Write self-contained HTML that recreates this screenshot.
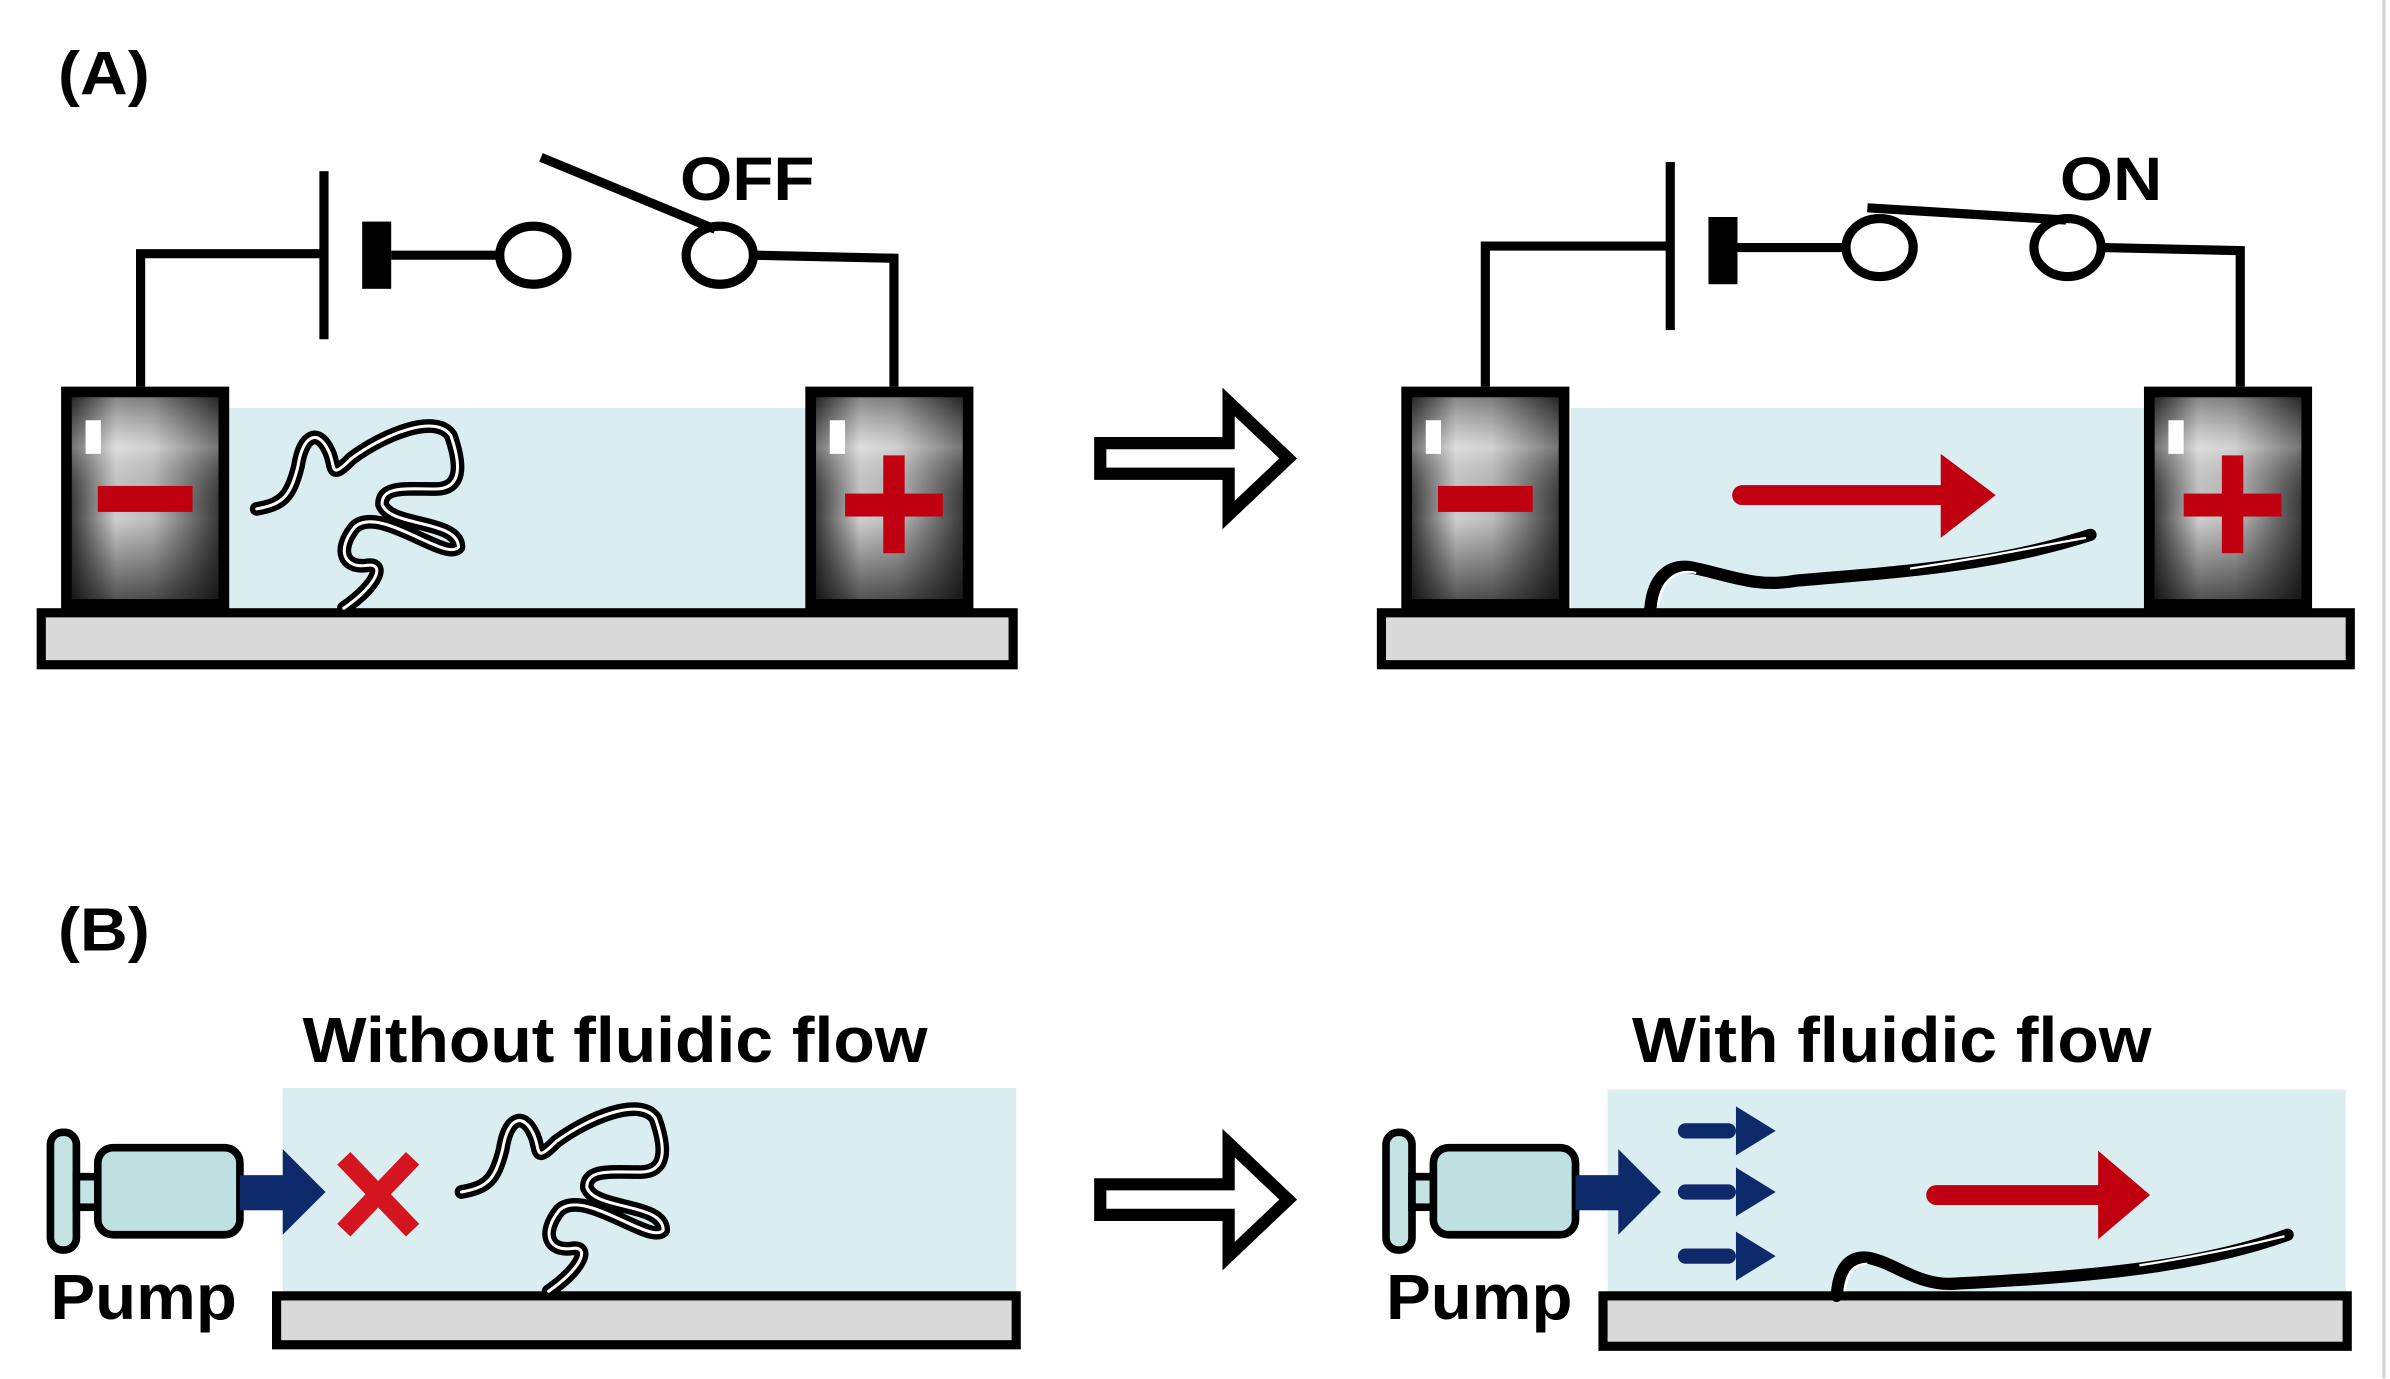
<!DOCTYPE html>
<html><head><meta charset="utf-8"><style>
html,body{margin:0;padding:0;background:#fff;}
svg{display:block;}
text{font-family:"Liberation Sans",sans-serif;font-weight:bold;fill:#000;}
</style></head><body>
<svg width="2390" height="1379" viewBox="0 0 1564 902.4" preserveAspectRatio="none" xmlns="http://www.w3.org/2000/svg">
<defs>
<linearGradient id="eh" x1="0" y1="0" x2="1" y2="0">
<stop offset="0" stop-color="#3a3a3a"/><stop offset="0.3" stop-color="#cfcfcf"/><stop offset="0.55" stop-color="#bdbdbd"/><stop offset="1" stop-color="#3a3a3a"/>
</linearGradient>
<linearGradient id="ev" x1="0" y1="0" x2="0" y2="1">
<stop offset="0" stop-color="#000" stop-opacity="0.35"/><stop offset="0.25" stop-color="#fff" stop-opacity="0.3"/><stop offset="0.6" stop-color="#000" stop-opacity="0"/><stop offset="1" stop-color="#000" stop-opacity="0.6"/>
</linearGradient>
<g id="elec">
<rect x="0" y="0" width="110" height="146" fill="#000"/>
<rect x="7" y="7" width="96" height="132" fill="url(#eh)"/>
<rect x="7" y="7" width="96" height="132" fill="url(#ev)"/>
<rect x="16" y="22" width="10" height="22" fill="#fff"/>
</g>
<g id="coil" fill="none" stroke-linecap="round" stroke-linejoin="round">
<path d="M168,333 C185,330 190,325 195,305 C198,285 208,280 215,295 C220,305 215,315 230,300 C250,285 285,270 295,285 C302,305 302,320 285,320 C265,320 250,318 250,330 C255,345 300,340 300,358 C292,368 248,330 232,345 C220,360 225,372 240,370 C252,368 248,382 225,398" stroke="#000" stroke-width="9"/>
<path d="M168,333 C185,330 190,325 195,305 C198,285 208,280 215,295 C220,305 215,315 230,300 C250,285 285,270 295,285 C302,305 302,320 285,320 C265,320 250,318 250,330 C255,345 300,340 300,358 C292,368 248,330 232,345 C220,360 225,372 240,370 C252,368 248,382 225,398" stroke="#fff" stroke-width="2"/>
</g>
<g id="hollow">
<polygon points="720,290 804,290 804,263 843,300 804,337 804,310 720,310" fill="#fff" stroke="#000" stroke-width="8" stroke-linejoin="miter"/>
</g>
<g id="pump">
<rect x="33" y="741" width="17" height="77" rx="8" fill="#c4e4e4" stroke="#000" stroke-width="5"/>
<rect x="50" y="770" width="16" height="20" fill="#c4e4e4" stroke="#000" stroke-width="5"/>
<rect x="64" y="751" width="93" height="57" rx="10" fill="#bfe0e0" stroke="#000" stroke-width="5"/>
<rect x="157" y="769" width="30" height="23" fill="#0d2a6b"/>
<polygon points="185,752 213,780 185,808" fill="#0d2a6b"/>
<text x="33" y="863" font-size="42" textLength="122" lengthAdjust="spacingAndGlyphs">Pump</text>
</g>
</defs>

<line x1="1560" y1="0" x2="1560" y2="902" stroke="#d0d0d0" stroke-width="2"/>

<!-- Panel A left -->
<text x="38" y="62" font-size="40" textLength="60" lengthAdjust="spacingAndGlyphs">(A)</text>
<rect x="150" y="267" width="380" height="133" fill="#daedf0"/>
<rect x="27" y="401" width="636" height="34" fill="#d9d9d9" stroke="#000" stroke-width="6"/>
<use href="#elec" transform="translate(40,253)"/>
<use href="#elec" transform="translate(527,253)"/>
<rect x="64" y="318" width="62" height="17" fill="#c00010"/>
<rect x="553" y="323" width="64" height="15" fill="#c00010"/>
<rect x="578" y="298" width="14" height="64" fill="#c00010"/>
<polyline points="92,253 92,166 212,166" fill="none" stroke="#000" stroke-width="6"/>
<rect x="209" y="112" width="6" height="110" fill="#000"/>
<rect x="237" y="145" width="19" height="44" fill="#000"/>
<line x1="256" y1="167" x2="326" y2="167" stroke="#000" stroke-width="6"/>
<ellipse cx="349" cy="167" rx="22" ry="19" fill="#fff" stroke="#000" stroke-width="6"/>
<ellipse cx="471" cy="167" rx="22" ry="19" fill="#fff" stroke="#000" stroke-width="6"/>
<line x1="354" y1="103" x2="468" y2="150" stroke="#000" stroke-width="6"/>
<polyline points="494,167 585,169 585,253" fill="none" stroke="#000" stroke-width="6"/>
<text x="445" y="131" font-size="40" textLength="88" lengthAdjust="spacingAndGlyphs">OFF</text>
<use href="#coil"/>

<use href="#hollow"/>

<!-- Panel A right -->
<rect x="1028" y="267" width="376" height="133" fill="#daedf0"/>
<rect x="904" y="401" width="634" height="34" fill="#d9d9d9" stroke="#000" stroke-width="6"/>
<use href="#elec" transform="translate(917,253)"/>
<use href="#elec" transform="translate(1403,253)"/>
<rect x="941" y="318" width="62" height="17" fill="#c00010"/>
<rect x="1429" y="323" width="64" height="15" fill="#c00010"/>
<rect x="1454" y="298" width="14" height="64" fill="#c00010"/>
<polyline points="972,253 972,161 1092,161" fill="none" stroke="#000" stroke-width="6"/>
<rect x="1090" y="106" width="6" height="110" fill="#000"/>
<rect x="1118" y="142" width="19" height="44" fill="#000"/>
<line x1="1137" y1="162" x2="1208" y2="162" stroke="#000" stroke-width="6"/>
<ellipse cx="1230" cy="162" rx="22" ry="19" fill="#fff" stroke="#000" stroke-width="6"/>
<ellipse cx="1353" cy="162" rx="22" ry="19" fill="#fff" stroke="#000" stroke-width="6"/>
<line x1="1222" y1="136" x2="1352" y2="144" stroke="#000" stroke-width="6"/>
<polyline points="1376,162 1466,164 1466,253" fill="none" stroke="#000" stroke-width="6"/>
<text x="1348" y="131" font-size="40" textLength="67" lengthAdjust="spacingAndGlyphs">ON</text>
<line x1="1140" y1="324" x2="1272" y2="324" stroke="#c00010" stroke-width="13" stroke-linecap="round"/>
<polygon points="1270,297 1306,324 1270,352" fill="#c00010"/>
<path d="M1080,398 C1082,375 1095,368 1110,372 C1130,376 1150,385 1175,380 C1230,375 1300,372 1368,350" fill="none" stroke="#000" stroke-width="8" stroke-linecap="round"/>
<path d="M1085,396 C1088,378 1098,372 1110,375 M1250,372 C1300,365 1330,358 1365,352" fill="none" stroke="#fff" stroke-width="1.5"/>

<!-- Panel B -->
<text x="38" y="622" font-size="40" textLength="60" lengthAdjust="spacingAndGlyphs">(B)</text>
<text x="198" y="695" font-size="42" textLength="409" lengthAdjust="spacingAndGlyphs">Without fluidic flow</text>
<rect x="185" y="712" width="480" height="134" fill="#daedf0"/>
<rect x="181" y="848" width="484" height="32" fill="#d9d9d9" stroke="#000" stroke-width="6"/>
<use href="#pump"/>
<g stroke="#d4141e" stroke-width="12">
<line x1="225" y1="758" x2="270" y2="805"/>
<line x1="270" y1="758" x2="225" y2="805"/>
</g>
<use href="#coil" transform="translate(134,447)"/>

<use href="#hollow" transform="translate(0,485)"/>

<text x="1068" y="695" font-size="42" textLength="340" lengthAdjust="spacingAndGlyphs">With fluidic flow</text>
<rect x="1052" y="713" width="483" height="133" fill="#daedf0"/>
<rect x="1049" y="848" width="487" height="33" fill="#d9d9d9" stroke="#000" stroke-width="6"/>
<use href="#pump" transform="translate(874,0)"/>
<g fill="#0d2a6b">
<rect x="1098" y="735" width="38" height="10" rx="5"/><polygon points="1136,724 1162,740 1136,756"/>
<rect x="1098" y="775" width="38" height="10" rx="5"/><polygon points="1136,764 1162,780 1136,796"/>
<rect x="1098" y="817" width="38" height="10" rx="5"/><polygon points="1136,806 1162,822 1136,838"/>
</g>
<line x1="1267" y1="782" x2="1375" y2="782" stroke="#c00010" stroke-width="13" stroke-linecap="round"/>
<polygon points="1373,753 1407,782 1373,811" fill="#c00010"/>
<path d="M1202,848 C1203,830 1210,822 1222,823 C1240,826 1255,842 1280,840 C1350,836 1430,832 1497,808" fill="none" stroke="#000" stroke-width="8" stroke-linecap="round"/>
<path d="M1207,845 C1209,832 1214,827 1222,827 M1400,828 C1440,822 1470,815 1495,809" fill="none" stroke="#fff" stroke-width="1.5"/>
</svg>
</body></html>
